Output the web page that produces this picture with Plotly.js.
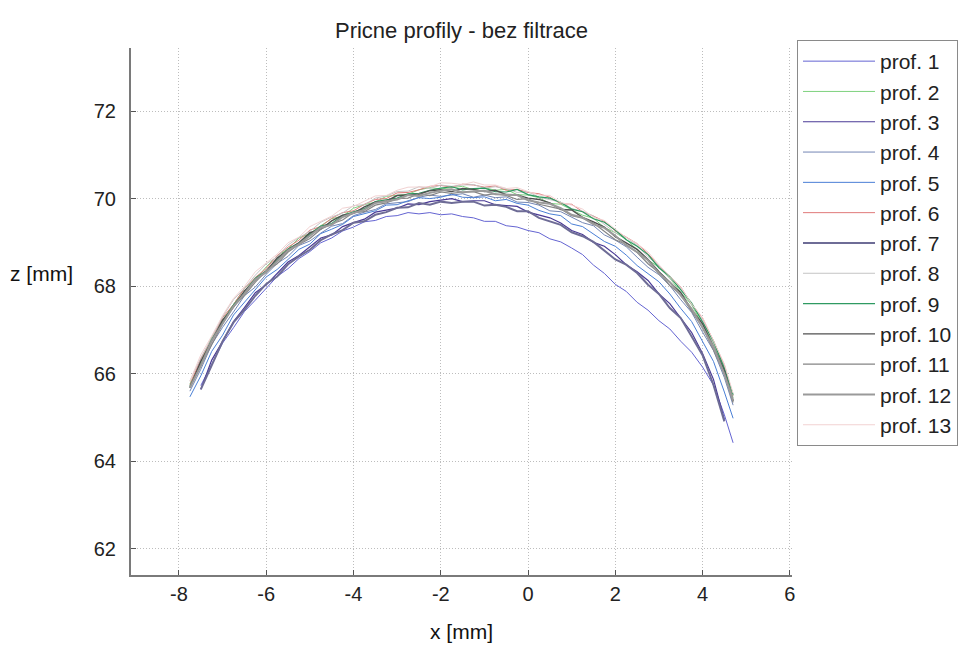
<!DOCTYPE html>
<html>
<head>
<meta charset="utf-8">
<script src="https://cdn.plot.ly/plotly-3.0.1.min.js"></script>
<style>
  html, body { margin: 0; padding: 0; background: #ffffff; }
  #chart { width: 963px; height: 647px; }
</style>
</head>
<body>
<div id="chart"></div>
<script>
// Cross-section profiles: common x positions [mm] and measured z heights [mm] per profile
const xPos = [-7.75, -7.5, -7.25, -7, -6.75, -6.5, -6.25, -6, -5.75, -5.5, -5.25, -5, -4.75, -4.5, -4.25, -4,
              -3.75, -3.5, -3.25, -3, -2.75, -2.5, -2.25, -2, -1.75, -1.5, -1.25, -1, -0.75, -0.5, -0.25, 0,
              0.25, 0.5, 0.75, 1, 1.25, 1.5, 1.75, 2, 2.25, 2.5, 2.75, 3, 3.25, 3.5, 3.75, 4, 4.25, 4.5, 4.7];

const prof1  = [null, 65.73, 66.23, 66.70, 67.05, 67.42, 67.68, 67.96, 68.22, 68.40, 68.63, 68.79, 68.99, 69.10, 69.26, 69.35,
                69.47, 69.50, 69.59, 69.61, 69.68, 69.65, 69.68, 69.63, 69.65, 69.59, 69.56, 69.48, 69.48, 69.38, 69.35, 69.27,
                69.22, 69.08, 69.01, 68.87, 68.72, 68.48, 68.29, 68.04, 67.88, 67.63, 67.45, 67.21, 67.02, 66.74, 66.49, 66.15,
                65.74, 65.06, 64.42];
const prof2  = [65.77, 66.27, 66.84, 67.23, 67.58, 67.95, 68.15, 68.44, 68.69, 68.85, 69.10, 69.20, 69.38, 69.54, 69.60, 69.78,
                69.86, 69.92, 70.05, 70.07, 70.10, 70.20, 70.25, 70.22, 70.25, 70.28, 70.20, 70.25, 70.19, 70.21, 70.09, 70.08,
                70.02, 69.89, 69.87, 69.75, 69.62, 69.55, 69.34, 69.22, 69.07, 68.83, 68.60, 68.43, 68.18, 67.86, 67.57, 67.12,
                66.70, 66.08, 65.45];
const prof3  = [null, 65.64, 66.31, 66.74, 67.19, 67.51, 67.85, 68.03, 68.30, 68.55, 68.70, 68.91, 69.10, 69.17, 69.36, 69.45,
                69.53, 69.69, 69.74, 69.78, 69.88, 69.86, 69.93, 69.97, 70.00, 69.93, 69.95, 69.95, 69.86, 69.84, 69.82, 69.69,
                69.62, 69.56, 69.44, 69.27, 69.18, 69.00, 68.91, 68.72, 68.49, 68.33, 68.13, 67.82, 67.60, 67.28, 66.94, 66.46,
                65.87, 64.95, null];
const prof4  = [65.60, 66.10, 66.67, 67.06, 67.41, 67.78, 67.98, 68.27, 68.52, 68.68, 68.93, 69.03, 69.21, 69.37, 69.43, 69.61,
                69.69, 69.75, 69.88, 69.90, 69.93, 70.03, 70.08, 70.05, 70.08, 70.11, 70.03, 70.08, 70.02, 70.04, 69.92, 69.91,
                69.85, 69.72, 69.70, 69.58, 69.45, 69.38, 69.17, 69.05, 68.90, 68.66, 68.43, 68.26, 68.01, 67.69, 67.40, 66.95,
                66.53, 65.91, 65.28];
const prof5  = [65.47, 65.95, 66.51, 66.88, 67.34, 67.63, 67.93, 68.21, 68.38, 68.61, 68.84, 68.96, 69.20, 69.30, 69.41, 69.59,
                69.65, 69.72, 69.85, 69.86, 69.95, 70.02, 70.00, 70.03, 70.10, 70.03, 70.02, 70.04, 69.95, 69.98, 69.89, 69.85,
                69.73, 69.65, 69.61, 69.42, 69.36, 69.18, 69.02, 68.91, 68.71, 68.47, 68.28, 68.10, 67.82, 67.49, 67.19, 66.74,
                66.28, 65.58, 64.98];
const prof6  = [65.74, 66.34, 66.80, 67.28, 67.58, 67.95, 68.20, 68.40, 68.70, 68.89, 69.05, 69.28, 69.36, 69.55, 69.68, 69.72,
                69.87, 69.98, 70.00, 70.13, 70.14, 70.20, 70.28, 70.30, 70.26, 70.33, 70.31, 70.26, 70.29, 70.19, 70.21, 70.14,
                70.11, 70.03, 69.88, 69.87, 69.70, 69.60, 69.48, 69.26, 69.12, 68.97, 68.74, 68.46, 68.22, 67.98, 67.59, 67.27,
                66.75, 66.20, 65.50];
const prof7  = [null, 65.64, 66.20, 66.74, 67.17, 67.46, 67.78, 68.05, 68.22, 68.50, 68.68, 68.83, 69.05, 69.18, 69.28, 69.45,
                69.48, 69.63, 69.69, 69.79, 69.80, 69.90, 69.86, 69.93, 69.90, 69.93, 69.93, 69.84, 69.86, 69.81, 69.71, 69.71,
                69.56, 69.48, 69.40, 69.23, 69.14, 69.01, 68.81, 68.61, 68.49, 68.30, 68.03, 67.82, 67.50, 67.27, 66.85, 66.42,
                65.74, 64.91, null];
const prof8  = [65.83, 66.36, 66.82, 67.30, 67.69, 67.95, 68.25, 68.51, 68.67, 68.94, 69.11, 69.25, 69.46, 69.58, 69.67, 69.84,
                69.86, 70.01, 70.06, 70.16, 70.17, 70.27, 70.23, 70.31, 70.28, 70.31, 70.32, 70.24, 70.27, 70.23, 70.14, 70.16,
                70.03, 69.98, 69.92, 69.77, 69.71, 69.60, 69.41, 69.22, 69.11, 68.93, 68.67, 68.47, 68.17, 67.96, 67.58, 67.22,
                66.70, 66.16, 65.50];
const prof9  = [65.71, 66.21, 66.78, 67.16, 67.57, 67.86, 68.18, 68.35, 68.61, 68.85, 68.99, 69.19, 69.37, 69.43, 69.61, 69.70,
                69.77, 69.93, 69.97, 70.01, 70.11, 70.12, 70.19, 70.24, 70.27, 70.20, 70.23, 70.24, 70.16, 70.15, 70.21, 70.09,
                70.04, 70.01, 69.91, 69.76, 69.70, 69.54, 69.46, 69.28, 69.06, 68.91, 68.72, 68.42, 68.22, 67.92, 67.61, 67.18,
                66.74, 66.12, 65.52];
const prof10 = [65.68, 66.28, 66.74, 67.22, 67.52, 67.89, 68.14, 68.34, 68.64, 68.83, 68.99, 69.22, 69.30, 69.49, 69.62, 69.66,
                69.81, 69.92, 69.94, 70.07, 70.08, 70.10, 70.18, 70.20, 70.16, 70.23, 70.21, 70.16, 70.19, 70.09, 70.08, 70.01,
                69.98, 69.90, 69.75, 69.74, 69.57, 69.47, 69.35, 69.13, 68.99, 68.84, 68.61, 68.33, 68.09, 67.85, 67.46, 67.14,
                66.62, 66.07, 65.37];
const prof11 = [65.67, 66.20, 66.66, 67.14, 67.53, 67.79, 68.09, 68.35, 68.51, 68.78, 68.95, 69.09, 69.30, 69.42, 69.51, 69.68,
                69.70, 69.85, 69.90, 70.00, 70.01, 70.11, 70.07, 70.15, 70.12, 70.15, 70.16, 70.08, 70.11, 70.07, 69.98, 70.00,
                69.87, 69.82, 69.76, 69.61, 69.55, 69.44, 69.25, 69.06, 68.95, 68.77, 68.51, 68.31, 68.01, 67.80, 67.42, 67.06,
                66.54, 66.00, 65.34];
const prof12 = [65.68, 66.18, 66.75, 67.13, 67.54, 67.83, 68.15, 68.32, 68.58, 68.82, 68.96, 69.16, 69.34, 69.40, 69.58, 69.67,
                69.74, 69.90, 69.94, 69.98, 70.08, 70.06, 70.13, 70.18, 70.21, 70.14, 70.17, 70.18, 70.10, 70.09, 70.08, 69.96,
                69.91, 69.88, 69.78, 69.63, 69.57, 69.41, 69.33, 69.15, 68.93, 68.78, 68.59, 68.29, 68.09, 67.79, 67.48, 67.05,
                66.61, 65.99, 65.39];
const prof13 = [65.83, 66.43, 66.86, 67.33, 67.72, 67.99, 68.33, 68.52, 68.73, 68.99, 69.12, 69.36, 69.48, 69.60, 69.78, 69.82,
                69.94, 70.06, 70.07, 70.19, 70.26, 70.26, 70.27, 70.36, 70.35, 70.32, 70.38, 70.31, 70.31, 70.23, 70.25, 70.16,
                70.08, 70.07, 69.91, 69.85, 69.76, 69.57, 69.50, 69.30, 69.11, 68.97, 68.78, 68.49, 68.22, 67.98, 67.59, 67.28,
                66.76, 66.22, 65.55];

const profileNames = ['prof. 1', 'prof. 2', 'prof. 3', 'prof. 4', 'prof. 5', 'prof. 6', 'prof. 7',
                      'prof. 8', 'prof. 9', 'prof. 10', 'prof. 11', 'prof. 12', 'prof. 13'];
const profiles = [prof1, prof2, prof3, prof4, prof5, prof6, prof7, prof8, prof9, prof10, prof11, prof12, prof13];

const xTicks = [-8, -6, -4, -2, 0, 2, 4, 6];
const zTicks = [62, 64, 66, 68, 70, 72];

// Line styling per profile
const lineColors = ['#6464d2', '#7fd27f', '#4a3a96', '#7386b4', '#4a7fd6', '#e07a7a', '#6e6c96',
                    '#c4c4c4', '#2f9a62', '#505050', '#848484', '#9a9a9a', '#f2d2d2'];
const lineWidths = [1, 1, 1.2, 1, 1, 1, 2, 1, 1.2, 1.4, 1.2, 2, 1];

const FONT = 'Liberation Sans, Arial, Helvetica, sans-serif';

const traces = profiles.map((z, i) => ({
  type: 'scatter',
  mode: 'lines',
  x: xPos,
  y: z,
  name: profileNames[i],
  line: { color: lineColors[i], width: lineWidths[i] },
  connectgaps: false,
  hoverinfo: 'x+y+name'
}));

const axisCommon = {
  showline: true,
  linecolor: '#7a7a7a',
  linewidth: 2,
  mirror: false,
  ticks: 'inside',
  ticklen: 5,
  tickwidth: 1,
  tickcolor: '#555555',
  showgrid: true,
  gridcolor: '#bdbdbd',
  griddash: '1px,2px',
  gridwidth: 1,
  zeroline: false,
  tickfont: { family: FONT, size: 20, color: '#222222' }
};

const layout = {
  width: 963,
  height: 647,
  margin: { l: 131, r: 171, t: 48, b: 72, pad: 0, autoexpand: false },
  paper_bgcolor: '#ffffff',
  plot_bgcolor: '#ffffff',
  showlegend: true,
  title: {
    text: 'Pricne profily - bez filtrace',
    x: 0.5, xref: 'paper', xanchor: 'center',
    y: 1 - 30 / 647, yref: 'container', yanchor: 'middle',
    font: { family: FONT, size: 22, color: '#222222' }
  },
  xaxis: Object.assign({}, axisCommon, {
    range: [-9.1, 6.05],
    tickvals: xTicks,
    ticktext: xTicks.map(String),
    title: { text: 'x [mm]', standoff: 20, font: { family: FONT, size: 21, color: '#111111' } }
  }),
  yaxis: Object.assign({}, axisCommon, {
    range: [61.4, 73.44],
    tickvals: zTicks,
    ticktext: zTicks.map(String),
    ticklabelstandoff: 9
  }),
  legend: {
    x: (797 - 131) / 661, xanchor: 'left',
    y: (575 - 40) / 527, yanchor: 'top',
    bgcolor: '#ffffff',
    bordercolor: '#8a8a8a',
    borderwidth: 1,
    itemwidth: 72,
    maxheight: 600,
    font: { family: FONT, size: 21, color: '#222222' }
  },
  annotations: [{
    text: 'z [mm]',
    xref: 'paper', yref: 'paper',
    x: (42 - 131) / 661, y: (575 - 273) / 527,
    xanchor: 'center', yanchor: 'middle',
    showarrow: false,
    font: { family: FONT, size: 21, color: '#111111' }
  }]
};

Plotly.newPlot('chart', traces, layout, { displayModeBar: false, staticPlot: true });
</script>
</body>
</html>
